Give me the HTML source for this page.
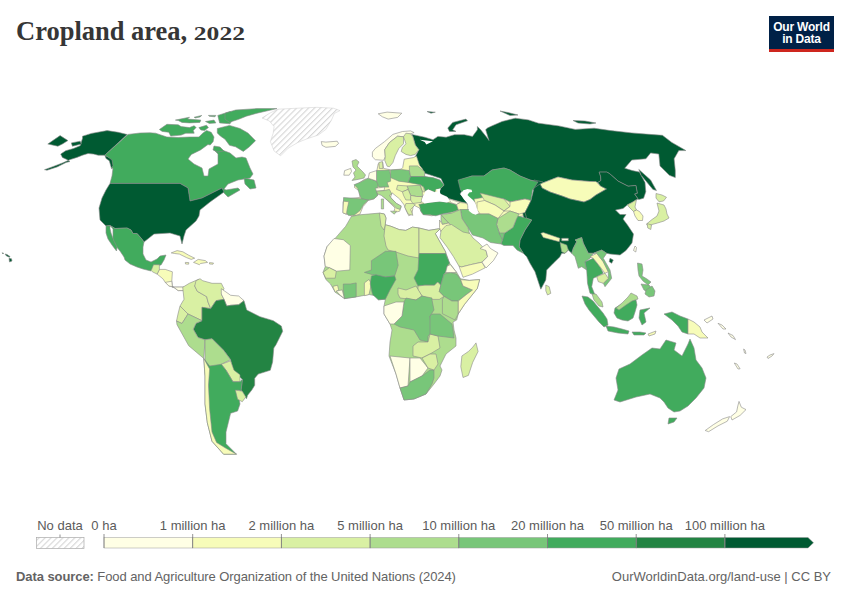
<!DOCTYPE html>
<html><head><meta charset="utf-8">
<style>
html,body{margin:0;padding:0;background:#fff;}
body{width:850px;height:600px;position:relative;overflow:hidden;font-family:"Liberation Sans",sans-serif;}
#title{position:absolute;left:16px;top:15px;transform:scaleX(0.946);transform-origin:0 0;font-family:"Liberation Serif",serif;font-weight:bold;font-size:28px;color:#363636;white-space:nowrap;letter-spacing:0px;}
#logo{position:absolute;left:769px;top:16px;width:65px;height:36px;background:#002147;border-bottom:3px solid #ce261e;box-sizing:border-box;color:#fff;text-align:center;font-size:12px;line-height:12px;padding-top:5px;font-weight:bold;letter-spacing:-0.2px;}
#map{position:absolute;left:0;top:0;}
#yr{display:inline-block;font-size:18px;transform:scaleX(1.5);transform-origin:0 100%;}
.lab{position:absolute;top:518px;font-size:13px;color:#5b5b5b;white-space:nowrap;transform:translateX(-50%);}
#foot1{position:absolute;left:16px;top:569px;font-size:13px;letter-spacing:-0.08px;color:#636363;white-space:nowrap;}
#foot2{position:absolute;right:19px;top:569px;font-size:13px;color:#636363;white-space:nowrap;}
</style></head><body>
<div id="title">Cropland area, <span id="yr">2022</span></div>
<div id="logo">Our World<br>in Data</div>
<svg id="map" width="850" height="600" viewBox="0 0 850 600">
<defs>
<pattern id="hatch" width="4.2" height="4.2" patternUnits="userSpaceOnUse" patternTransform="rotate(45)">
<rect width="4.2" height="4.2" fill="#fff"/><rect width="1.1" height="4.2" fill="#d6d6d6"/>
</pattern>
</defs>
<g stroke="#8a8a8a" stroke-width="0.6" stroke-linejoin="round">
<path d="M82.5 136.2L91.4 133.4L107.1 130.6L118.2 132.3L127.2 134.5L104.8 155.2L106 158.5L109.3 160.8L111.5 168.6L113.8 167.5L112.6 157.4L109.3 157.4L104.8 155.2L98.1 155.2L93.6 154.1L88.1 153.5L82.5 155.2L76.9 157.4L70.2 159.6L62.4 163L53.4 166.4L44.5 169.7L47 170.2L57 167L66 162.5L70 161.5L66.8 159.5L62.4 157.4L60.7 154.1L65.7 150.7L73.5 148.5L80.2 145.7L81.4 141.8L82.5 138.4Z" fill="#005a32"/>
<path d="M71.3 142.9L80.2 141.2L81.4 144L72.4 146.2Z" fill="#005a32"/>
<path d="M47.8 144L60.1 135.6L67.9 140.6L62.4 144L57.9 146.2Z" fill="#005a32"/>
<path d="M128 134.4L140 133L150 132.8L155.6 133.2L166.9 137L178.2 137.5L189.5 137L198.9 137L202.7 133.2L206.5 130.4L211.2 132.3L214 137L213.1 141.7L210.2 145L208 144.5L200.5 149.9L191.3 154.5L188 159L194 164L202 168L204 176L208 176L209 169L218 164L218 154L214 150L222 150L230 153L236 158L242 157L246 158L250 168L253 174L250 178L238 180L228 184L224 189L226 190L238 188L240 190L228 197L224 193L222 188L218 190L202 198L190 201L188 188L180 183.4L110 183.4L112 176L113 168L111 168L113 166L112 160L108 157L104.8 155.2Z" fill="#41ab5d"/>
<path d="M244 178L254 180L256 188L250 189L245 184Z" fill="#41ab5d"/>
<path d="M159.4 129.5L166.9 124.3L178.2 124.8L181.1 126.6L189.5 127.6L194.2 125.7L196.1 127.6L193.3 130.4L194.2 133.2L185.8 133.2L181.1 135.1L170.7 136.1L168.8 132.3L162.2 131.4Z" fill="#41ab5d"/>
<path d="M175.4 120.1L189.5 117.2L187.6 119.1L200.8 120.1L199.9 122.4L189.5 122.9L182 122.4L178.2 120.5Z" fill="#41ab5d"/>
<path d="M194.2 117.2L201.8 115.4L200 117L195 118Z" fill="#41ab5d"/>
<path d="M205.5 121.5L214 120.1L215.9 122.9L209.3 123.4Z" fill="#41ab5d"/>
<path d="M208.4 115.4L215.9 115.4L214.9 116.8L209.3 116.3Z" fill="#41ab5d"/>
<path d="M217.8 115.4L230 111.6L236 114L230 123.8L219.6 122.9Z" fill="#41ab5d"/>
<path d="M225 113.2L235.6 110L257 108.6L277 108.6L257 113.2L246.3 116.2L238.7 119.3L229.5 122.3L225 119.3Z" fill="#41ab5d"/>
<path d="M217.3 128.5L229.5 125.4L240 128.5L247.9 133L255.5 140.7L249.4 146.8L243.3 151.4L235.6 146.8L229.5 145.3L225 139.2L220.3 136L217.3 133Z" fill="#41ab5d"/>
<path d="M214 146L220 147L224 151L218 152L213 150Z" fill="#41ab5d"/>
<path d="M198.9 127.6L206.5 125.2L208.4 127.6L204.6 130.4L200.8 130Z" fill="#41ab5d"/>
<path d="M110 183.4L180 183.4L188 188L190 201L202 198L218 190L222 188L224 192L210 202L200 210L199 216L196 221L186 230L184 236L182 244L180 236L170 233L154 234L144 242L141 238L137 233.5L133 233.5L131 230L127 228L115 228.5L110 225.5L106 226L100 220L99 208L102 198L106 190Z" fill="#005a32"/>
<path d="M110 225.5L115 228.5L127 228L131 230L133 233.5L137 233.5L141 238L144 242L143 247L143 254L146 260L151 262L157 259L160 256L166 255L164 260L161 265L154 266L151 271L143 269L137 267L130 264L125 260L124 257L120 251L115 245L113 240L113 229Z" fill="#41ab5d"/>
<path d="M106 226L110 225.5L110 228.5L111 233L114 241L117 247L116.5 251L112 245L108 239L106 233Z" fill="#41ab5d"/>
<path d="M159.4 269.4L165.3 269.4L172.4 271.8L171.8 281.2L172.4 287.1L179.4 287.1L184.1 287.1L185.3 290.6L178.2 290.6L173.5 287.1L168.8 285.9L165.3 282.4L162.9 278.8L157.1 274.1Z" fill="#f7fcb9"/>
<path d="M165.3 282.4L171.8 281.2L172.4 287.1L179.4 287.1L184.1 287.1L185.3 290.6L178.2 290.6L173.5 287.1L168.8 285.9Z" fill="#ffffe5"/>
<path d="M153.5 264.7L159.4 264.7L159.4 269.4L157.1 274.1L152.4 271.8L151.2 270.6Z" fill="#d9f0a3"/>
<path d="M171.2 252.9L177.1 250.6L182.9 251.8L188.8 255.3L194.7 258.2L191.2 259.4L186.5 257.6L179.4 254.1L174.7 253.5Z" fill="#f7fcb9"/>
<path d="M185.3 262.4L188.8 262.6L188.6 264.2L185.5 264Z" fill="#f7fcb9"/>
<path d="M209.5 262.6L213.5 263L213 264.2L209.5 264Z" fill="#f7fcb9"/>
<path d="M193.5 262.4L198.2 259.4L205.3 260.6L207.6 262.4L200.6 263.5L199.4 264.7Z" fill="#f7fcb9"/>
<path d="M9 258.3L11.5 258.8L12 261L9.5 262Z" fill="#005a32"/>
<path d="M5 254L7 254.5L10 256.5L9.5 257.3L6.5 256Z" fill="#005a32"/>
<path d="M2 252.8L3.6 253.2L3 254Z" fill="#005a32"/>
<path d="M182.7 287.3L189.3 283.3L198.7 279.3L194.7 286L197.3 291.3L206.7 296.7L208 302L210.7 308.7L202 307.3L202 320.7L188 314L180 306L184 299.3Z" fill="#d9f0a3"/>
<path d="M196 280.7L200 278.7L202.7 280.7L212 283.3L221.3 283.3L224 288.7L221.3 294L224 299.3L216 300.7L210.7 308.7L208 302L206.7 296.7L197.3 291.3L194.7 286Z" fill="#d9f0a3"/>
<path d="M221.3 288.7L230.7 295.3L238.7 296L244 300.7L238.7 304.7L230.7 305.3L226.7 306L224 299.3L221.3 294Z" fill="#ffffe5"/>
<path d="M210.7 308.7L216 300.7L224 299.3L226.7 306L230.7 305.3L238.7 304.7L244 300.7L246.7 310L260 316.7L273.3 320.7L281.3 326L282.7 331.3L276 344.7L273.8 348L272.6 362L270.3 370.2L258.2 374.1L254.7 378.2L254.7 385.3L251.8 390L247.6 395.3L246.5 398.8L241 390L242.4 379.4L233 370.2L230.6 359.7L223.6 350.3L216.6 343.3L212 338.7L205 339.8L198 337.5L193.3 329.3L196 323.3L202 320.7L202 307.3Z" fill="#238443"/>
<path d="M180 306L188 314L182 323.5L176.5 321L178 314Z" fill="#d9f0a3"/>
<path d="M176.5 321L182 323.5L188 314L202 320.7L196 323.3L193.3 329.3L198 337.5L205 339.8L203.8 358.5L188.7 345.7L177 324.7Z" fill="#addd8e"/>
<path d="M205 339.8L212 338.7L223.6 350.3L230.6 359.7L221.3 364.3L212 369L205 360.8Z" fill="#addd8e"/>
<path d="M221.3 364.3L230.6 360.8L234 370.2L240 374.8L240 381.8L233 381.8L226 370.2Z" fill="#d9f0a3"/>
<path d="M203.8 358.5L209.6 366L221.3 364.3L226 370.2L233 381.8L240 381.8L242.5 379L241 391L237.6 390L240 404L237.6 411L230.6 413.3L228.3 422.7L226 432L226 443.7L236.5 454.2L223.6 454.2L212 441.3L207.3 422.7L205 404L205 376Z" fill="#41ab5d"/>
<path d="M203.8 358.5L209.6 369L208.5 385.3L209.6 408.7L212 432L216.6 442.5L226 448.3L236.5 454.2L223.6 454.2L212 441.3L207.3 422.7L205 404L205 376Z" fill="#f7fcb9"/>
<path d="M235.3 390L242.3 391.2L245.8 397L242.3 401.7L237.6 399.3Z" fill="#d9f0a3"/>
<path d="M277.9 109.2L297.6 108.2L316.5 107.3L333.4 108.2L340 110.6L334.4 113.4L331.5 120L325.9 129.4L318.4 135L307 138.8L297.6 142.6L288.2 148.2L280.7 155.8L274.1 151L270.4 141.6L273.2 133.2L274.1 126.6L269.4 121L262 118L270 113Z" fill="url(#hatch)" stroke="#ccc" stroke-width=".5"/>
<path d="M321.2 141.6L325.9 142.1L337.2 141.2L338.6 143.5L335.3 146.4L325.9 147.3L322.1 145.4Z" fill="#ffffe5"/>
<path d="M411.8 134.4L424.7 137.2L433 139.7L437.9 136.4L446.1 137.2L454.4 134.7L464.3 134.7L472.5 136.4L477.4 129.8L477.4 126.5L480.7 129.8L487.3 138L489 140.5L485.7 129.8L487.3 128.1L492.3 125.7L502.1 121.5L515.3 118.2L528.5 119.9L538.4 123.2L558.8 125.9L575.3 129.4L594.1 128.2L610.6 130.6L631.8 132.9L645.9 134.1L662.4 135.3L671.8 142.4L685.9 150.6L678.8 150.6L674.1 158.8L675.3 170.6L675.3 177.6L669.4 175.3L660 165.9L658.8 154.1L650.6 152.9L645.9 158.8L631.8 160L624.7 168.2L632.3 170.6L639.4 172.1L645 182.6L645.8 191.8L643.6 198.2L638.7 199.6L638 198.9L634.5 193.9L637.3 193.2L635.9 185.5L628.1 186.2L618.2 181.2L609.8 173.8L606.9 172.1L599.2 172.1L600.6 176.3L600.9 180.5L597.8 182.6L590 181.5L572 180L558 177L540 184L538 182L530 180L520 176L510 170L504 168L492 170L484 176L472 176L460 180L464 188L460 194L462 196L468 203.5L460.2 202.6L448.9 198.8L447.1 196.9L440.5 194.1L439.5 192.2L440.5 188.5L444 185L441 178.5L432 175.5L424.7 173.2L420 166.2L416.5 161.5L415.3 156.8L418.8 149.7L415.3 145L412.9 136.8Z" fill="#005a32"/>
<path d="M447.8 128.1L452.7 122.4L465.9 119.1L467.5 120.7L456 124.8L452.7 129.8L456 131.4L449.4 131.4Z" fill="#005a32"/>
<path d="M419.8 139.7L433 141.3L426.4 144.6L424.7 142.1Z" fill="#fff" stroke="none"/>
<path d="M534 180L543 182L542 190L533 190Z" fill="#005a32"/>
<path d="M638.8 169.4L650.6 180L656.5 190.6L652.9 189.4L641.2 175.3Z" fill="#005a32"/>
<path d="M573 120.5L585 121L596 123L590 124L578 123Z" fill="#005a32"/>
<path d="M500 111L508 112.5L518 115L510 115.5Z" fill="#005a32"/>
<path d="M378.2 113.8L387.1 112.1L401.8 113.2L397.6 117.4L388.2 119.1L382.4 116.8Z" fill="#ffffe5"/>
<path d="M427 111.5L435.3 112.2L431 113.2Z" fill="#005a32"/>
<path d="M372.4 152.1L375.3 148.5L384.7 141.5L392.9 134.4L402.4 131.5L410.6 130.9L414.1 132.6L410.6 133.8L403.5 136.8L397.6 136.2L389.4 142.6L384.7 149.7L385.3 156.8L383.5 160.3L375.3 159.7L372.4 156.8Z" fill="#ffffe5"/>
<path d="M397.6 136.2L403.5 136.8L403.5 143.8L398.8 148.5L395.3 155.6L392.9 162.6L389.4 166.8L387.1 166.2L384.7 160.3L385.3 156.8L384.7 149.7L389.4 142.6Z" fill="#d9f0a3"/>
<path d="M403.5 136.8L405.9 133.2L410.6 133.8L412.9 136.8L415.3 145L418.8 149.7L415.3 154.4L410.6 155.6L405.9 154.4L401.2 151.5L402.4 147.4L405.9 143.8L405 141Z" fill="#d9f0a3"/>
<path d="M352 161L356 159.5L359 162L357 166L360 169L363 172L365.5 175L364 178L360 179L352 180.5L355 177L353.5 173L356 170L353 167Z" fill="#addd8e"/>
<path d="M344.6 170.6L350.7 168.4L351.5 171.4L349.2 175.2L343.8 175.2Z" fill="#ffffe5"/>
<path d="M354.5 185.2L359 183L365 179L367.5 179L376.7 171.4L378.2 163.8L382.8 162.2L383.6 168.4L391.2 169.9L401.2 169.1L402.7 167.6L404.2 159.2L413.4 157.6L416.5 156L419.5 165.3L422.6 169.1L424.9 176.8L437.9 179.8L444 185.2L439.4 189.8L437.9 192.8L428.7 191.3L422.6 195.9L421 200.5L419.5 202L425.7 202L439.4 202L450 199L467 203.5L467 208L459.3 209.7L456.2 214.2L444 212.7L431.8 215.8L422.6 214.2L419.5 208L413.4 205L411.9 214.2L408.8 215.8L405.8 209.7L404.2 205L399.7 199L392 192.8L390.5 197.4L396.6 203.5L401.2 206.6L399.7 211.2L393.5 212.7L395 208L387.4 200.5L381.3 194.4L377.5 192.8L377.5 195.9L373.6 199L368.3 200.5L363 206.6L359.9 214.2L352.2 216.5L347.6 214.2L346 214.2L343 212.7L343 202L344.6 199L359.9 197.4L359.9 191.3L354.5 187.5Z" fill="#f7fcb9"/>
<path d="M354.1 184.7L360 182.4L368.2 178.2L375.3 180.6L378.8 183.5L376.5 190.6L377.6 195.3L374.1 198.8L368.2 200L361.2 198.8L359.4 194.1L357.6 188.2Z" fill="#78c679"/>
<path d="M343.5 197.6L361.2 198.8L368.2 200L363.5 204.7L360 210.6L354.1 215.3L348.2 215.3L345.9 211.8L343.5 202.4Z" fill="#78c679"/>
<path d="M343.5 201.2L348.8 201.8L347.1 209.4L346.5 214.1L342.9 212.9Z" fill="#f7fcb9"/>
<path d="M376.5 170.6L389.4 170L390.6 175.3L390.6 181.2L387.1 182.4L388.8 187.1L378.8 187.1L376.5 181.2Z" fill="#78c679"/>
<path d="M375.3 188.2L384.7 187.1L384.1 190.6L376.5 191.2Z" fill="#ffffe5"/>
<path d="M369.4 172.9L376.5 170.6L376.5 181.2L375.3 180.6L368.2 178.2Z" fill="#ffffe5"/>
<path d="M378.8 162.6L382.4 161.5L382.9 168.5L379.4 168.5Z" fill="#d9f0a3"/>
<path d="M390.6 170L401.2 169.4L409.4 170.6L410.6 176.5L408.2 182.4L398.8 181.2L390.6 177.6Z" fill="#78c679"/>
<path d="M409.4 165.9L417.6 165.9L424.7 171.8L424.7 176.5L410.6 176.5L409.4 170.6Z" fill="#addd8e"/>
<path d="M410.6 176.5L424.7 176.5L432.9 177.6L440 180L444 185L440.5 188.5L435.8 189.4L434.8 192.2L428.2 189.4L425.4 191.3L423.5 187.1L420 184.7L408.2 182.4Z" fill="#41ab5d"/>
<path d="M420 184.7L423.5 187.1L424.7 191.8L422.4 191.8Z" fill="#d9f0a3"/>
<path d="M407.1 185.9L420 185.3L422.4 191.8L422.4 196.5L416.5 196.5L410.6 195.3L408.2 189.4Z" fill="#addd8e"/>
<path d="M376.5 191.2L384.1 190.6L389.4 189.4L391.8 194.1L389.4 195.3L391.8 198.8L396.5 203.5L401.2 205.9L400 209.4L396.5 208.2L392.9 204.7L387.1 200L381.2 195.3L377.6 194.1Z" fill="#addd8e"/>
<path d="M390.5 211.2L396.6 211.2L394.3 214.2Z" fill="#addd8e"/>
<path d="M381.3 199L383.6 199L383.6 208.9L381.3 208.9Z" fill="#addd8e"/>
<path d="M397.6 185.3L407.1 185.9L408.2 189.4L402.4 191.8L396.5 189.4Z" fill="#d9f0a3"/>
<path d="M405.9 203.5L412.9 203.5L415.3 204.7L410.6 209.4L412.9 215.3L408.2 214.1L404.7 207.1Z" fill="#d9f0a3"/>
<path d="M410.6 195.3L416.5 196.5L422.4 196.5L421.2 202.4L412.9 203.5L410.6 200Z" fill="#d9f0a3"/>
<path d="M402.4 191.8L408.2 189.4L410.6 195.3L410.6 200L405.9 200L403.5 195.3Z" fill="#d9f0a3"/>
<path d="M418.8 204.5L428.2 202.6L439.5 201.6L448.9 202.6L456.5 204.5L458.4 210.1L452.7 212L442.4 213.9L435.8 215.8L430.1 214.8L423.5 214.8L420.7 211.1L419.8 206.4Z" fill="#41ab5d"/>
<path d="M448.9 198.8L460.2 202.6L456.5 204.5L450.8 202.6Z" fill="#ffffe5"/>
<path d="M456.5 204.5L460.2 202.6L465 203L467.8 204.5L467.8 210.1L458.4 210.1Z" fill="#f7fcb9"/>
<path d="M458 180L472 176L484 176L492 170L504 168L510 170L520 176L530 180L538 182L534 188L532.5 190L531 200.5L525 199L510 202L504 199L483 197.5L477 200.5L472.5 202L465 194.5L460.5 190Z" fill="#41ab5d"/>
<path d="M474 199L483 197.5L504 199L510 202L525 199L531 200.5L527 212L523 216L516 217L510 213L498 220L489 216L478 214Z" fill="#f7fcb9"/>
<path d="M522 210L531 208L532 218L524 219Z" fill="#005a32"/>
<path d="M480 193L504 199L510 206.5L504 211L495 205L484.5 200.5Z" fill="#d9f0a3"/>
<path d="M477 202L484.5 200.5L495 205L504 211L498 218.5L489 214L480 214L477 209.5Z" fill="#f7fcb9"/>
<path d="M510 202L525 199L531 200.5L525 212.5L519 214L510 211L504 211L510 206.5Z" fill="#f7fcb9"/>
<path d="M540 184L558 177L572 180L590 181.5L596 181.5L600.5 186L606.5 189L596 195L590 199.5L584 202L570 199L562 196L550 192L542 188Z" fill="#f7fcb9"/>
<path d="M531 200.5L534 188L540 184L542 188L550 192L562 196L570 199L584 202L590 199.5L596 195L606.5 189L600.5 186L597.8 182.6L600.9 180.5L600.6 176.3L599.2 172.1L606.9 172.1L609.8 173.8L618.2 181.2L628.1 186.2L635.9 185.5L637.3 193.2L634.5 193.9L638 198.9L632 202.5L627.5 204.8L623 208.5L615.5 210L620 214.5L626 214.5L623 219L627.5 225L633.5 234L632 243L626 250.5L620 255L610 254L606.7 253.3L601.7 250L593.3 253.3L588.3 253.3L583.3 243.3L581.7 237.5L575 240L576.7 241.7L573.3 248.3L571.7 253.3L568.3 250L565 253.3L561.7 253.3L560 256.7L553.3 263.3L546.7 270L545.8 280L540.8 289.2L535 271.7L530 263.3L526.7 256.7L523.3 253.3L519.2 246.7L520 240L525 230L531.7 220L526.7 218.3L525 212.5Z" fill="#005a32"/>
<path d="M610 258.3L613.3 260L611.7 263.3L609.2 261.7Z" fill="#005a32"/>
<path d="M540.8 233.3L543.3 232.5L560 238.3L559.2 241.7L543.3 237.5Z" fill="#f7fcb9"/>
<path d="M561.7 238.3L568.3 238.3L568.3 240.8L561.7 240.8Z" fill="#ffffe5"/>
<path d="M560 242.5L566.7 245L568.3 250L565 253.3L561.7 251.7Z" fill="#addd8e"/>
<path d="M516 215.5L526.7 218.3L531.7 220L525 230L520 240L519.2 246.7L523.3 253.3L517 250L513 245.5L504 245.5L501 244L502.5 239.5L504 233.5L513 227.5L516 220Z" fill="#41ab5d"/>
<path d="M498 218.5L510 211L519 214L516 220L513 227.5L504 233.5L499.5 233.5L496.5 224.5Z" fill="#addd8e"/>
<path d="M460.5 209.5L469.5 209.5L474 214L480 214L489 214L498 218.5L496.5 224.5L499.5 233.5L502.5 239.5L501 244L490.5 242.5L483 238L472.5 235L468 227.5L462 218.5Z" fill="#78c679"/>
<path d="M441 214.7L451.5 213.2L460.5 209.5L462 218.5L468 227.5L469.5 233.5L463.5 233.5L451.5 226L448.5 223Z" fill="#addd8e"/>
<path d="M441 214.7L448.5 223L442.5 224.5L441 220Z" fill="#addd8e"/>
<path d="M439.5 220L442.5 224.5L448.5 223L451.5 226L447 229L441 232L439.5 227.5Z" fill="#f7fcb9"/>
<path d="M441 231L446 225.5L451.5 224.5L463 232L470 233.5L473 238L479 243L486 250.5L487.6 256.7L482 262.2L470.9 264.6L461.4 267L459 266.2L453.5 256.7L447.2 247.2L440 237.7Z" fill="#d9f0a3"/>
<path d="M461.4 267L470.9 264.6L482 262.2L485.2 267.8L472.5 274.1L463 277.3L459 266.2Z" fill="#f7fcb9"/>
<path d="M480 248.5L487 244L490.5 248.5L498 253L493.5 260.5L486 268L482 262.2L487.6 256.7L486 250.5Z" fill="#ffffe5"/>
<path d="M575 240L581.7 237.5L583.3 243.3L588.3 253.3L593.3 253.3L590 258.3L585 261.7L586.7 270L581.7 266.7L578.3 268.3L575 256.7L571.7 253.3L573.3 248.3L576.7 241.7Z" fill="#78c679"/>
<path d="M585 261.7L593.3 258.3L600 266.7L603.3 273.3L596.7 276.7L593.3 278.3L591.7 286.7L595 295L590 293.3L587.5 283.3L586.7 270Z" fill="#41ab5d"/>
<path d="M590 256.7L596.7 253.3L603.3 261.7L608.3 271.7L605 273.3L600 266.7L593.3 258.3Z" fill="#f7fcb9"/>
<path d="M593.3 253.3L601.7 250L606.7 253.3L603.3 258.3L610 270L611.7 278.3L605 286.7L603.3 283.3L608.3 278.3L608.3 271.7L603.3 261.7L596.7 253.3Z" fill="#78c679"/>
<path d="M596.7 276.7L605 273.3L608.3 278.3L603.3 283.3L598.3 281.7Z" fill="#d9f0a3"/>
<path d="M592 294L596 294L602 302L603 307L599 306L594 300Z" fill="#addd8e"/>
<path d="M545.8 285L549.2 286.7L550.8 293.3L547.5 295L545.8 290.8Z" fill="#d9f0a3"/>
<path d="M635 246L636.5 247.5L635.8 252L633.5 250.5Z" fill="#ffffe5"/>
<path d="M632 202.5L636.5 199.5L635 207L636.5 210L633.5 211.5L629 207L627.5 204.8Z" fill="#d9f0a3"/>
<path d="M636.5 210L639.5 211.5L643 216L642.5 220.5L638 220.5L635 216L633.5 211.5Z" fill="#f7fcb9"/>
<path d="M656 193.5L662 195L666.5 197.3L663.5 201L659 201.8L656 198Z" fill="#d9f0a3"/>
<path d="M657 203L664 205L666 209L667 214L669 218L664 221L657.5 223L652 224.5L648 226L646.5 224L652 219.5L657 216L659 211Z" fill="#d9f0a3"/>
<path d="M647 223.5L651.5 225L650.8 229.5L647.8 228Z" fill="#d9f0a3"/>
<path d="M637.5 263L642 264L643 270L642 276L647 279L651 282L648 285L643 281L639 276L638 270Z" fill="#78c679"/>
<path d="M641 284L649 285L653 290L650 293L644 290Z" fill="#78c679"/>
<path d="M646 290L652 286L655 291L654 296L649 297L645 294Z" fill="#78c679"/>
<path d="M582 296L588 297L593 301L598 307L603 313L607 319L608 325L604 327L599 322L594 316L589 310L585 304Z" fill="#41ab5d"/>
<path d="M606 326L614 327L622 329L629 331L628 334L618 333L608 331Z" fill="#41ab5d"/>
<path d="M632 332L640 332L646 333L644 335L634 335Z" fill="#41ab5d"/>
<path d="M648 334L656 331L655 334L649 336Z" fill="#f7fcb9"/>
<path d="M615 308L620 305L626 302L631 299L636 300L637 305L635 312L633 318L628 321L622 320L617 318L614 313Z" fill="#41ab5d"/>
<path d="M616 308L622 303L628 297L631 293L637 296L638 299L632 301L626 305L619 310Z" fill="#addd8e"/>
<path d="M640 310L650 308L644 313L646 322L642 325L639 318Z" fill="#41ab5d"/>
<path d="M664 314L672 312L680 316L688 319L688 334L682 332L678 326L672 320L668 317Z" fill="#41ab5d"/>
<path d="M688 319L694 322L700 327L702 332L708 338L700 338L694 334L688 334Z" fill="#f7fcb9"/>
<path d="M619 369L630 364L642 355L652 348L660 349L666 340L676 343L674 350L682 356L688 344L690 339L694 348L696 360L702 368L706 378L704 388L696 398L688 406L680 411L674 412L668 408L664 402L660 398L650 394L636 397L620 402L614 400L618 390L616 378Z" fill="#41ab5d"/>
<path d="M669 418L677 418L674 422L668 424Z" fill="#41ab5d"/>
<path d="M739 401.4L741.3 407.2L746 409.6L740.1 415.4L732 420L730.8 416.6L736.6 411.9L737.8 406Z" fill="#ffffe5"/>
<path d="M729.6 416.6L727.3 421.2L718 425.9L708.6 431.7L705.2 430.5L713.3 424.7L722.6 418.9Z" fill="#ffffe5"/>
<path d="M734.3 363L737 364L740.1 368.8L738 369Z" fill="#ffffe5"/>
<path d="M743.6 349L745 350L746 353.6L744.5 353Z" fill="#ffffe5"/>
<path d="M767 357L770 355L774 353.6L772 356L768 358.5Z" fill="#ffffe5"/>
<path d="M718 323.3L722 325L726 329L723 329Z" fill="#ffffe5"/>
<path d="M728 333L733 335.5L735.5 339.6L731 337Z" fill="#ffffe5"/>
<path d="M704 320L712 316L713 319L707 323Z" fill="#ffffe5"/>
<path d="M351.4 216.4L359.7 214.8L379.4 213.1L384.4 214L386 218L385.2 224.7L391 226.3L399.2 229.6L405.8 230.4L412.4 227.1L419 228L428.8 230.4L438.7 228.8L440 229L435.3 233.7L439.3 240.8L445.6 251.9L449.5 263L456.7 272.5L460.6 278.8L469.3 280.4L479.6 279.6L477.3 288.4L471 296.3L464.6 304.2L458.3 313.7L456.7 320L453 322L454 330L456 338L456 346L446 354L440 366L442 370L440 376L434 384L426 394L414 399L404 400L400 388L396 374L389 356L390 342L392 330L390 324L384 314L384 306L385.4 299.2L378.4 299.8L374.9 295.7L369 294.5L356.2 296.9L344.5 298.6L335.2 292.2L330.5 284L325.8 279.4L323 272.4L325.3 266.5L324 256L327 246.7L334.9 238.7L339.9 232.9L345.7 226.3Z" fill="#addd8e"/>
<path d="M385.2 224.7L391 226.3L399.2 229.6L405.8 230.4L412.4 227.1L419 228L419 258L408 256L396 252L388 250L386 246L384 236Z" fill="#d9f0a3"/>
<path d="M379.4 213.1L384.4 214L386 218L385.2 224.7L384 230L381 226L380 218Z" fill="#d9f0a3"/>
<path d="M419 228L428.8 230.4L438.7 228.8L440 229L435.3 233.7L439.3 240.8L445.6 251.9L445.6 253.5L419 253.5Z" fill="#d9f0a3"/>
<path d="M419 253.5L445.6 253.5L449.5 263L447.2 266.2L445.6 272.5L444 274.1L440.8 285.2L437.7 282L434.5 285.2L425 285.2L418 286L414 278L418 270Z" fill="#41ab5d"/>
<path d="M418 286L425 285.2L434.5 285.2L437.7 282L440.8 285.2L439.3 291.5L444 296.3L439.3 299.4L431.3 299.4L422 296L418 290Z" fill="#d9f0a3"/>
<path d="M444 274.1L450.3 272.5L456.7 274.1L460.6 279.6L463 286L472.5 290L466.2 294.7L458.3 301L451.9 301L444 296.3L439.3 291.5L440.8 285.2Z" fill="#78c679"/>
<path d="M447.2 266.2L450.3 264.6L456.7 272.5L450.3 272.5L445.6 272.5Z" fill="#ffffe5"/>
<path d="M398 288L406 290L416 286L422 296L416 300L400 298L398 294Z" fill="#d9f0a3"/>
<path d="M404 302L406 298L416 300L422 296L432 298L432 300L434 310L430 316L432 332L428 336L428 342L420 340L414 330L400 327L394 324L402 316Z" fill="#78c679"/>
<path d="M384 306L396 302L404 302L402 316L394 324L390 324L384 314Z" fill="#ffffe5"/>
<path d="M390 356L410 358L408 386L400 388L396 374Z" fill="#ffffe5"/>
<path d="M410 358L420 358L428 368L422 376L410 382Z" fill="#ffffe5"/>
<path d="M400 388L408 386L410 382L422 376L430 370L434 370L434 378L432 384L426 394L414 399L404 400Z" fill="#78c679"/>
<path d="M413 346L418 342L428 342L430 334L438 336L440 348L430 354L422 358L413 356Z" fill="#d9f0a3"/>
<path d="M422 358L430 354L436 354L438 364L434 370L428 368Z" fill="#d9f0a3"/>
<path d="M432 314L440 314L452 324L453 330L454 338L438 336L430 334L430 316Z" fill="#78c679"/>
<path d="M476 342.9L478.1 351.5L472.7 362.4L468.4 375.4L463 377.5L460.8 366.7L461.9 355.9L468.4 351.5L472.7 347.2Z" fill="#d9f0a3"/>
<path d="M334 238.5L343.3 239.7L350.3 245.5L349.8 270L336.3 271.2L329.3 267.7L325.3 266.5L324 256L327 246.7Z" fill="#ffffe5"/>
<path d="M371.4 260.7L385.4 251.3L395.9 251.3L398.2 265.3L394.7 275.9L385.4 277L372.5 274.7L364.4 272.4L371.4 270Z" fill="#78c679"/>
<path d="M323 272.4L329.3 267.7L336.3 271.2L335.2 278.2L325.8 278.2Z" fill="#d9f0a3"/>
<path d="M332.8 286.4L337.5 285.2L338.7 289.9L335.2 292.2Z" fill="#f7fcb9"/>
<path d="M336.3 291L342.2 289.9L344.5 298.6L340 295Z" fill="#ffffe5"/>
<path d="M343.3 284L350.3 284L356.2 282.9L356.2 296.9L344.5 298.6L343.3 289.9Z" fill="#78c679"/>
<path d="M364.4 282.9L369 279.4L371.4 284L369 294.5L364.4 295.7Z" fill="#f7fcb9"/>
<path d="M371.4 275.9L376 274.7L385.4 277L394.7 275.9L395.9 279.4L390 289.9L385.4 299.2L378.4 299.8L372.5 294.5L370.2 284Z" fill="#41ab5d"/>
<path d="M444 296.3L451.9 301L458.3 301L458.3 313.7L455 320L442.4 313.7L442.4 299.4Z" fill="#addd8e"/>
<path d="M458.3 301L466.2 294.7L472.5 290L463 286L460.6 279.6L469.3 280.4L479.6 279.6L477.3 288.4L471 296.3L464.6 304.2L458.3 313.7Z" fill="#f7fcb9"/>
<path d="M463.4 190.2L467.5 189.1L471.6 189.7L472.2 192L469.2 192.6L467.5 194.9L469.2 196.7L473.3 200.2L474.5 202.5L475.7 204.2L476.8 208.3L478.6 213L475.7 214.7L472.2 213.6L468.7 210.7L469.2 207.2L468.1 204.2L464 199.6L460.5 194.3Z" fill="#fff" stroke="none"/>
<path d="M499 233L504.5 233L502.5 240Z" fill="#78c679"/>
<path d="M422.6 197.9L425.4 191.3L428.2 189.4L434.8 192.2L439.5 190.4L440.5 194.1L447.1 196.9L449.9 200.7L447.1 202.6L439.5 201.6L431.1 202.6L424.5 203.5L421.6 200.7Z" fill="#fff" stroke="none"/>
<path d="M435.8 189.4L440.5 188.5L439.5 192.2Z" fill="#fff" stroke="none"/>
</g>
<rect x="36.5" y="537.5" width="47.5" height="11" fill="url(#hatch)" stroke="#aaa" stroke-width="0.7"/>
<g stroke="#999" stroke-width="0.5">
<rect x="104" y="537.5" width="88.7" height="10.5" fill="#ffffe5"/>
<rect x="192.7" y="537.5" width="88.7" height="10.5" fill="#f7fcb9"/>
<rect x="281.4" y="537.5" width="88.7" height="10.5" fill="#d9f0a3"/>
<rect x="370.1" y="537.5" width="88.7" height="10.5" fill="#addd8e"/>
<rect x="458.8" y="537.5" width="88.7" height="10.5" fill="#78c679"/>
<rect x="547.5" y="537.5" width="88.7" height="10.5" fill="#41ab5d"/>
<rect x="636.2" y="537.5" width="88.7" height="10.5" fill="#238443"/>
</g>
<path d="M724.9 537.5H808L813.5 542.75L808 548H724.9Z" fill="#005a32" stroke="#999" stroke-width="0.5"/>
<g stroke="#777" stroke-width="0.8">
<line x1="60" y1="534.5" x2="60" y2="537.5"/><line x1="104" y1="534" x2="104" y2="548"/><line x1="192.7" y1="534" x2="192.7" y2="548"/><line x1="281.4" y1="534" x2="281.4" y2="548"/>
<line x1="370.1" y1="534" x2="370.1" y2="548"/><line x1="458.8" y1="534" x2="458.8" y2="548"/>
<line x1="547.5" y1="534" x2="547.5" y2="548"/><line x1="636.2" y1="534" x2="636.2" y2="548"/>
<line x1="724.9" y1="534" x2="724.9" y2="548"/>
</g>
</svg>
<div class="lab" style="left:60px">No data</div>
<div class="lab" style="left:104px">0 ha</div>
<div class="lab" style="left:192.7px">1 million ha</div>
<div class="lab" style="left:281.4px">2 million ha</div>
<div class="lab" style="left:370.1px">5 million ha</div>
<div class="lab" style="left:458.8px">10 million ha</div>
<div class="lab" style="left:547.5px">20 million ha</div>
<div class="lab" style="left:636.2px">50 million ha</div>
<div class="lab" style="left:724.9px">100 million ha</div>
<div id="foot1"><b>Data source:</b> Food and Agriculture Organization of the United Nations (2024)</div>
<div id="foot2">OurWorldinData.org/land-use | CC BY</div>
</body></html>
